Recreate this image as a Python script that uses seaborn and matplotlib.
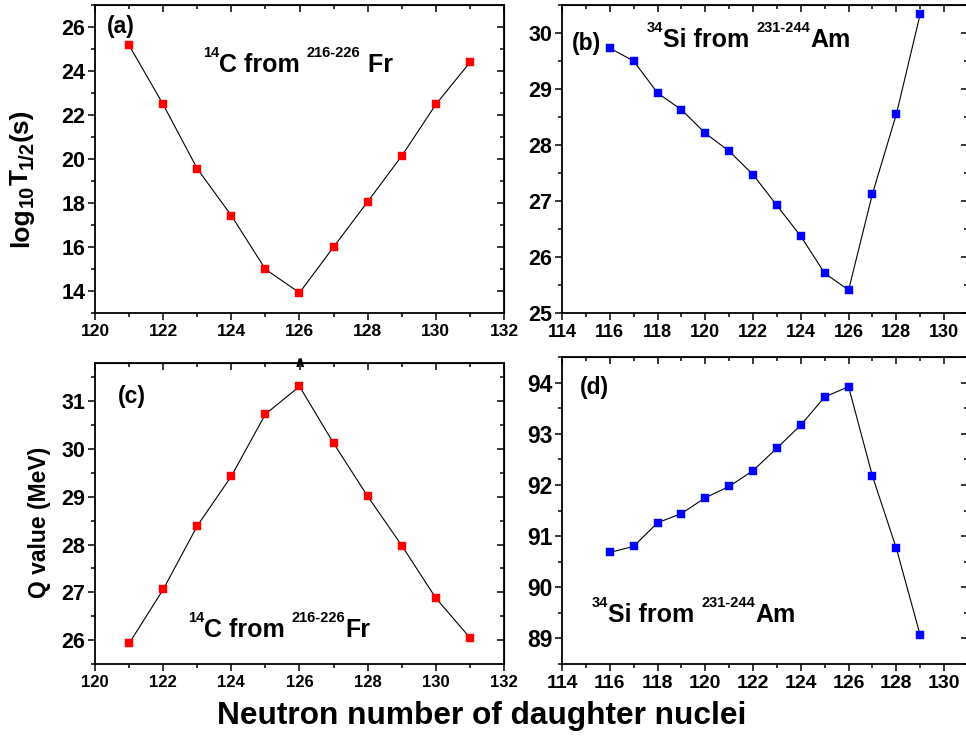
import numpy as np
import pandas as pd
import matplotlib
matplotlib.use("Agg")
import matplotlib.pyplot as plt
import seaborn as sns
from matplotlib.ticker import MultipleLocator

# ── data ──
N_fr      = [121, 122, 123, 124, 125, 126, 127, 128, 129, 130, 131]
logT_c14  = [25.17, 22.48, 19.56, 17.43, 14.99, 13.92, 16.00, 18.06, 20.14, 22.48, 24.39]
Q_c14     = [25.93, 27.06, 28.39, 29.43, 30.73, 31.31, 30.12, 29.01, 27.98, 26.88, 26.05]

N_am      = [116, 117, 118, 119, 120, 121, 122, 123, 124, 125, 126, 127, 128, 129]
logT_si34 = [29.73, 29.50, 28.93, 28.63, 28.21, 27.89, 27.47, 26.92, 26.37, 25.71,
             25.41, 27.13, 28.55, 30.34]
Q_si34    = [90.68, 90.80, 91.26, 91.44, 91.75, 91.97, 92.28, 92.72, 93.17, 93.72,
             93.92, 92.17, 90.76, 89.06]

sns.set_style("ticks")
plt.rcParams["font.family"] = ["Liberation Sans", "DejaVu Sans"]
plt.rcParams["font.weight"] = "bold"
for k in ("text.color", "axes.labelcolor", "axes.edgecolor",
          "xtick.color", "ytick.color"):
    plt.rcParams[k] = "black"

W, H = 966, 746
fig = plt.figure(figsize=(W / 100, H / 100), dpi=100)


def px_axes(l, r, t, b):
    return fig.add_axes([l / W, 1 - b / H, (r - l) / W, (b - t) / H])


def style(ax, xlim, ylim, xmaj, ymaj, xfs, yfs):
    ax.set_xlim(*xlim)
    ax.set_ylim(*ylim)
    ax.xaxis.set_major_locator(MultipleLocator(xmaj))
    ax.xaxis.set_minor_locator(MultipleLocator(xmaj / 2))
    ax.yaxis.set_major_locator(MultipleLocator(ymaj))
    ax.yaxis.set_minor_locator(MultipleLocator(ymaj / 2))
    for s in ax.spines.values():
        s.set_visible(True)
        s.set_linewidth(1.3)
        s.set_color("black")
    ax.tick_params(which="both", direction="out", width=1.1,
                   top=False, right=False, colors="black")
    ax.tick_params(which="major", length=5)
    ax.tick_params(which="minor", length=3)
    ax.tick_params(axis="x", labelsize=xfs, pad=3)
    ax.tick_params(axis="y", labelsize=yfs, pad=2)
    # mirrored ticks pointing inward on top / right
    tw = ax.secondary_xaxis("top")
    tw.set_xticks(ax.get_xticks())
    tw.xaxis.set_minor_locator(MultipleLocator(xmaj / 2))
    tw.tick_params(which="both", direction="in", labeltop=False, width=1.1,
                   colors="black")
    tw.tick_params(which="major", length=5)
    tw.tick_params(which="minor", length=3)
    rw = ax.secondary_yaxis("right")
    rw.set_yticks(ax.get_yticks())
    rw.yaxis.set_minor_locator(MultipleLocator(ymaj / 2))
    rw.tick_params(which="both", direction="in", labelright=False, width=1.1,
                   colors="black")
    rw.tick_params(which="major", length=5)
    rw.tick_params(which="minor", length=3)
    for t in ax.get_xticklabels() + ax.get_yticklabels():
        t.set_fontweight("bold")


def draw(ax, x, y, color):
    df = pd.DataFrame({"N": x, "v": y})
    sns.lineplot(data=df, x="N", y="v", ax=ax, color="black", linewidth=0.8)
    sns.scatterplot(data=df, x="N", y="v", ax=ax, marker="s", color=color,
                    s=34, edgecolor=color, linewidth=0.3, zorder=3)
    ax.set_xlabel("")
    ax.set_ylabel("")


def rich(ax, x, y, pieces, big=18, small=10.5, rise=10.5):
    """pieces: list of (text, is_superscript); y is the main baseline (axes frac)"""
    prev = None
    for s, sup in pieces:
        kw = dict(fontsize=small if sup else big, fontweight="bold",
                  ha="left", va="baseline",
                  xytext=(0, rise if sup else 0), textcoords="offset points")
        if prev is None:
            prev = ax.annotate(s, xy=(x, y), xycoords=ax.transAxes, **kw)
        else:
            prev = ax.annotate(s, xy=(1, y), xycoords=(prev, ax.transAxes), **kw)


def rich_vertical(xpx, ypx, pieces, big=19, small=14.5, drop=3.2):
    """rotated label built bottom-to-top; (xpx, ypx) = baseline start in figure pixels"""
    prev = None
    for s, sub in pieces:
        kw = dict(fontsize=small if sub else big, fontweight="bold",
                  rotation=90, rotation_mode="anchor", ha="left", va="baseline",
                  xytext=(drop if sub else 0, 0), textcoords="offset points")
        if prev is None:
            prev = fig.text(xpx / W, ypx / H, s, fontsize=big, fontweight="bold",
                            rotation=90, rotation_mode="anchor",
                            ha="left", va="baseline")
        else:
            prev = fig.add_artist(plt.Annotation(
                s, xy=(xpx, 1), xycoords=("figure pixels", prev), **kw))


ax_a = px_axes(95, 504, 5, 313)
ax_b = px_axes(562, 968, 5, 313)
ax_c = px_axes(95, 504, 363, 664)
ax_d = px_axes(562, 968, 357, 664)

draw(ax_a, N_fr, logT_c14, "#ff0000")
draw(ax_b, N_am, logT_si34, "#0000ff")
draw(ax_c, N_fr, Q_c14, "#ff0000")
draw(ax_d, N_am, Q_si34, "#0000ff")

style(ax_a, (120, 132), (13, 27), 2, 2, 12.5, 15.5)
style(ax_b, (114, 131), (25, 30.5), 2, 1, 13, 15.5)
style(ax_c, (120, 132), (25.5, 31.8), 2, 1, 12, 15.5)
style(ax_d, (114, 131), (88.5, 94.5), 2, 1, 14, 16.5)

# y label of (a): log10 T1/2 (s) with large subscripts
rich_vertical(28, H - 247,
              [("log", False), ("10", True), ("T", False), ("1/2", True), ("(s)", False)])

ax_c.set_ylabel("Q value (MeV)", fontsize=16.5, fontweight="bold")
ax_c.yaxis.set_label_coords(-0.108, 0.472)

ax_a.text(0.03, 0.93, "(a)", transform=ax_a.transAxes, fontsize=16.5,
          fontweight="bold", va="center", ha="left")
ax_b.text(0.025, 0.875, "(b)", transform=ax_b.transAxes, fontsize=16.5,
          fontweight="bold", va="center", ha="left")
ax_c.text(0.055, 0.89, "(c)", transform=ax_c.transAxes, fontsize=16.5,
          fontweight="bold", va="center", ha="left")
ax_d.text(0.043, 0.9, "(d)", transform=ax_d.transAxes, fontsize=16.5,
          fontweight="bold", va="center", ha="left")

rich(ax_a, 0.264, (313 - 72) / 308,
     [("14", True), ("C from ", False), ("216-226", True), (" Fr", False)])
rich(ax_b, 0.209, (313 - 47) / 308,
     [("34", True), ("Si from ", False), ("231-244", True), ("Am", False)])
rich(ax_c, 0.227, (664 - 637) / 301,
     [("14", True), ("C from ", False), ("216-226", True), ("Fr", False)])
rich(ax_d, 0.074, (664 - 622) / 307,
     [("34", True), ("Si from ", False), ("231-244", True), ("Am", False)])

# small caret stuck on the top axis of (c)
ax_c.text(126, 31.8, "\u2227", fontsize=11, ha="center", va="center",
          family="DejaVu Sans", clip_on=False)

fig.text(482 / W, 1 - 716 / H, "Neutron number of daughter nuclei",
         fontsize=22.8, fontweight="bold", ha="center", va="center")

fig.savefig("out.png", dpi=100)
